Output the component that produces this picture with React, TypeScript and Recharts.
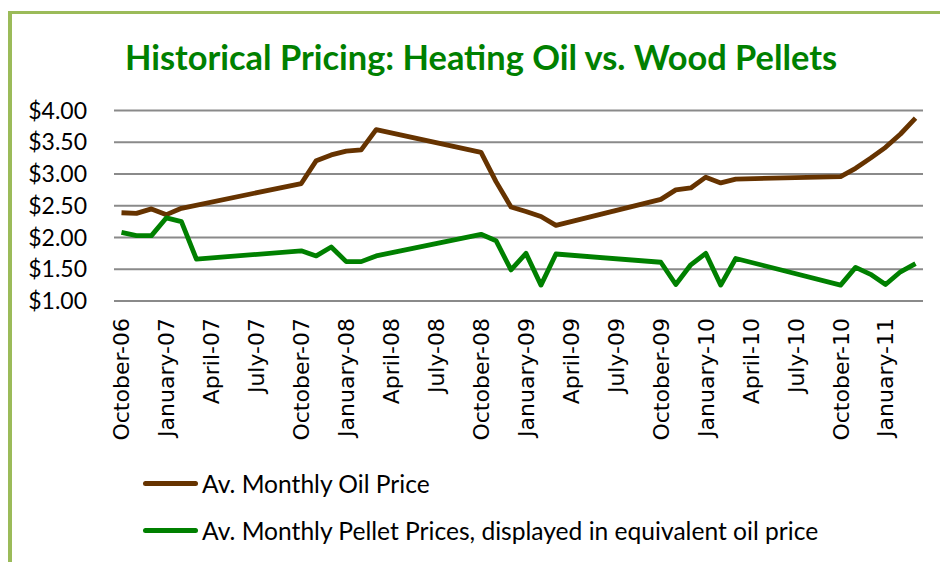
import React from "react";
import { LineChart, Line, XAxis, YAxis, CartesianGrid } from "recharts";

// month index, 0 = October 2006
const monthIndex = [0, 1, 2, 3, 4, 5, 12, 13, 14, 15, 16, 17, 24, 25, 26, 27, 28, 29, 36, 37, 38, 39, 40, 41, 48, 49, 50, 51, 52, 53];
const oilPrice = [2.39, 2.38, 2.45, 2.36, 2.46, null, 2.85, 3.21, 3.3, 3.36, 3.38, 3.7, 3.34, 2.88, 2.48, 2.41, 2.33, 2.19, 2.6, 2.75, 2.78, 2.95, 2.86, 2.92, 2.96, 3.09, 3.25, 3.42, 3.63, 3.88];
const pelletPrice = [2.08, 2.03, 2.03, 2.31, 2.25, 1.66, 1.79, 1.71, 1.85, 1.62, 1.62, 1.71, 2.05, 1.95, 1.49, 1.75, 1.25, 1.74, 1.61, 1.26, 1.57, 1.75, 1.25, 1.67, 1.25, 1.53, 1.42, 1.26, 1.46, 1.59];

const tickMonths = [0, 3, 6, 9, 12, 15, 18, 21, 24, 27, 30, 33, 36, 39, 42, 45, 48, 51];
const tickLabels = [
  "October-06", "January-07", "April-07", "July-07",
  "October-07", "January-08", "April-08", "July-08",
  "October-08", "January-09", "April-09", "July-09",
  "October-09", "January-10", "April-10", "July-10",
  "October-10", "January-11",
];
const priceTicks = [1, 1.5, 2, 2.5, 3, 3.5, 4];

const seriesNames = [
  "Av. Monthly Oil Price",
  "Av. Monthly Pellet Prices, displayed in equivalent oil price",
];
const seriesColors = ["#663300", "#008000"];

const data = monthIndex.map((m, i) => ({
  month: m,
  oil: oilPrice[i],
  pellet: pelletPrice[i],
}));

function MonthTick({ x, y, payload }: any) {
  const i = tickMonths.indexOf(payload.value);
  return (
    <g transform={`translate(${x},${y})`}>
      <text
        transform="rotate(-90)"
        x={0}
        y={0}
        dy="0.36em"
        textAnchor="end"
        fill="#000"
        fontFamily="DejaVu Sans"
        fontSize={22}
      >
        {tickLabels[i]}
      </text>
    </g>
  );
}

export default function App() {
  return (
    <div
      style={{
        position: "absolute",
        left: 0,
        top: 0,
        width: 940,
        height: 562,
        overflow: "hidden",
        background: "#fff",
      }}
    >
      <div style={{ position: "absolute", left: 8, top: 11, width: 1000, height: 3, background: "#9BBB59" }} />
      <div style={{ position: "absolute", left: 8, top: 11, width: 4, height: 600, background: "#9BBB59" }} />
      <div
        style={{
          position: "absolute",
          left: 0,
          top: 36,
          width: 962,
          textAlign: "center",
          fontFamily: "Lato",
          fontWeight: 700,
          fontSize: 34.4,
          lineHeight: "42px",
          color: "#008000",
        }}
      >
        Historical Pricing: Heating Oil vs. Wood Pellets
      </div>
      <div style={{ position: "absolute", left: 0, top: 0 }}>
        <LineChart
          width={940}
          height={562}
          data={data}
          margin={{ top: 110.5, right: 17, bottom: 111, left: 0 }}
        >
          <CartesianGrid horizontal vertical={false} stroke="#8a8a8a" strokeWidth={1.8} />
          <XAxis
            dataKey="month"
            type="number"
            domain={[-0.5, 53.5]}
            ticks={tickMonths}
            interval={0}
            axisLine={false}
            tickLine={false}
            tickSize={0}
            tickMargin={17}
            height={150}
            tick={<MonthTick />}
          />
          <YAxis
            domain={[1, 4]}
            ticks={priceTicks}
            interval={0}
            width={114}
            axisLine={false}
            tickLine={false}
            tickSize={0}
            tickMargin={27}
            tickFormatter={(v: number) => `$${v.toFixed(2)}`}
            tick={{ fill: "#000", fontFamily: "Lato", fontSize: 23 }}
          />
          <Line
            type="linear"
            dataKey="oil"
            stroke={seriesColors[0]}
            strokeWidth={4.8}
            dot={false}
            connectNulls
            strokeLinejoin="round"
            isAnimationActive={false}
          />
          <Line
            type="linear"
            dataKey="pellet"
            stroke={seriesColors[1]}
            strokeWidth={4.8}
            dot={false}
            strokeLinejoin="round"
            isAnimationActive={false}
          />
        </LineChart>
      </div>
      {seriesNames.map((name, i) => (
        <div
          key={name}
          style={{
            position: "absolute",
            left: 143,
            top: 468 + i * 47,
            height: 30,
            display: "flex",
            alignItems: "center",
            fontFamily: "Lato",
            fontSize: 24.6,
            color: "#000",
            whiteSpace: "nowrap",
          }}
        >
          <span
            style={{
              display: "inline-block",
              width: 55,
              height: 5,
              borderRadius: 3,
              background: seriesColors[i],
              marginRight: 4,
            }}
          />
          {name}
        </div>
      ))}
    </div>
  );
}
